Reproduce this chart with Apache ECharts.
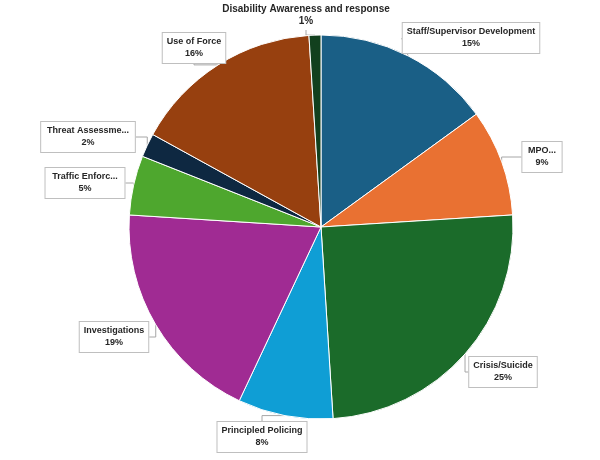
<!DOCTYPE html>
<html>
<head>
    <meta charset="utf-8" />
    <title>Training Topics</title>
    <script src="https://cdn.jsdelivr.net/npm/echarts@6/dist/echarts.min.js"></script>
</head>
<body style="margin:0;background:#fff">
    <div id="main" style="width:600px;height:460px;"></div>
    <script>
        var topics = ['Staff/Supervisor Development', 'MPOTEC Updates', 'Crisis/Suicide', 'Principled Policing',
            'Investigations', 'Traffic Enforcement', 'Threat Assessment/School Safety', 'Use of Force',
            'Disability Awareness and response'];
        var shares = [15, 9, 25, 8, 19, 5, 2, 16, 1];
        var colors = ['#1a5f86', '#e97132', '#1b6b2a', '#0f9ed5', '#a02b93', '#4ea72e', '#0e2841', '#97400f', '#12401e'];
        // where each label box sits
        var labelSpots = [[471, 38], [542, 157], [503, 372], [262, 437], [114, 337], [85, 183], [88, 137], [194, 48], [306, 15]];

        var myChart = echarts.init(document.getElementById('main'));
        myChart.setOption({
            animation: false,
            series: [{
                type: 'pie',
                center: [321, 227],
                radius: 192,
                startAngle: 90,
                clockwise: true,
                itemStyle: { borderColor: '#fff', borderWidth: 1 },
                label: {
                    formatter: '{b}\n{d}%',
                    fontSize: 9,
                    fontWeight: 'bold',
                    fontFamily: 'Liberation Sans',
                    color: '#262626',
                    lineHeight: 12,
                    align: 'center',
                    backgroundColor: '#fff',
                    borderColor: '#bfbfbf',
                    borderWidth: 1,
                    padding: [3, 4]
                },
                labelLine: { show: true, lineStyle: { color: '#a6a6a6', width: 1 } },
                labelLayout: function (p) {
                    var s = labelSpots[p.dataIndex];
                    return { x: s[0], y: s[1], align: 'center', verticalAlign: 'middle' };
                },
                data: topics.map(function (t, i) {
                    var d = { name: t, value: shares[i], itemStyle: { color: colors[i] } };
                    if (i === 8) d.label = { fontSize: 10, backgroundColor: 'transparent', borderWidth: 0 };
                    return d;
                })
            }]
        });
    </script>
</body>
</html>
